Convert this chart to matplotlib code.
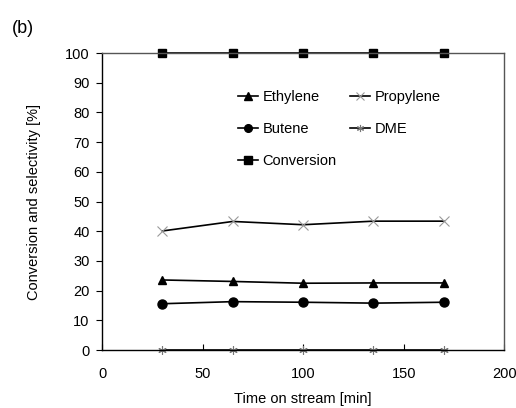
import matplotlib.pyplot as plt

plt.rcParams['font.family'] = ['Liberation Sans', 'DejaVu Sans']
plt.rcParams['font.size'] = 10.5

# time on stream [min]
time_min = [30, 65, 100, 135, 170]

# selectivities and conversion [%]
ethylene = [23.6, 23.1, 22.5, 22.6, 22.6]
propylene = [40.1, 43.3, 42.2, 43.4, 43.4]
butene = [15.6, 16.3, 16.1, 15.8, 16.1]
dme = [0, 0, 0, 0, 0]
conversion = [100, 100, 100, 100, 100]

fig = plt.figure(figsize=(5.16, 4.08), dpi=100)
ax = fig.add_axes([0.198, 0.142, 0.779, 0.728])

lw = 1.2
h_eth, = ax.plot(time_min, ethylene, color='black', lw=lw, marker='^', ms=6,
                 label='Ethylene', clip_on=False)
h_pro, = ax.plot(time_min, propylene, color='black', lw=lw, marker='x', ms=7,
                 mec='#999999', mew=0.8, label='Propylene', clip_on=False)
h_but, = ax.plot(time_min, butene, color='black', lw=lw, marker='o', ms=6.5,
                 label='Butene', clip_on=False)
h_dme, = ax.plot(time_min, dme, color='black', lw=lw, marker=(6, 2, 0), ms=6,
                 mec='#777777', mew=0.8, label='DME', clip_on=False)
h_con, = ax.plot(time_min, conversion, color='black', lw=lw, marker='s', ms=6,
                 label='Conversion', clip_on=False)

ax.set_xlim(0, 200)
ax.set_ylim(0, 100)
ax.set_xticks(range(0, 201, 50))
ax.set_yticks(range(0, 101, 10))
ax.tick_params(axis='x', direction='in', length=4, width=0.8, pad=12, colors='black')
ax.tick_params(axis='y', direction='out', length=4, width=0.8, pad=5, colors='black')
for s in ax.spines.values():
    s.set_linewidth(1.0)
    s.set_color('#555555')
ax.spines['left'].set_color('black')
ax.spines['bottom'].set_color('black')

ax.set_xlabel('Time on stream [min]', labelpad=8)
ax.set_ylabel('Conversion and selectivity [%]', labelpad=17)

ax.legend(handles=[h_eth, h_but, h_con, h_pro, h_dme], ncol=2, frameon=False,
          loc='upper left', bbox_to_anchor=(0.305, 0.92), handlelength=1.4,
          handletextpad=0.3, columnspacing=0.9, labelspacing=1.25,
          markerscale=0.85)

fig.text(0.023, 0.92, '(b)', fontsize=13)

fig.savefig('out.png', dpi=100)
